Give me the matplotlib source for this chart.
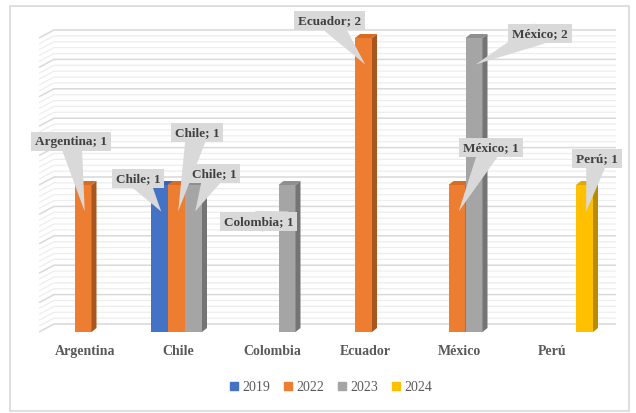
import matplotlib.pyplot as plt
import numpy as np
from matplotlib.lines import Line2D
from matplotlib.patches import Polygon, Rectangle

plt.rcParams["font.family"] = ["Liberation Serif", "DejaVu Serif"]

categories = ["Argentina", "Chile", "Colombia", "Ecuador", "México", "Perú"]
years = ["2019", "2022", "2023", "2024"]
values_2019 = [0, 1, 0, 0, 0, 0]
values_2022 = [1, 1, 0, 2, 1, 0]
values_2023 = [0, 1, 1, 0, 2, 0]
values_2024 = [0, 0, 0, 0, 0, 1]
series = [values_2019, values_2022, values_2023, values_2024]

front_colors = ["#4472C4", "#ED7D31", "#A5A5A5", "#FFC000"]
side_colors = ["#2F5597", "#A9561E", "#747474", "#B98C00"]
top_colors = ["#3A64B0", "#D86C25", "#8F8F8F", "#E0A800"]

# callout text offsets in pixels from the pointer tip (series, category) -> (dx, dy)
callout_offsets = {
    (1, 0): (-14, 70),
    (0, 1): (-23, 33),
    (1, 1): (19, 79),
    (2, 1): (19, 38),
    (2, 2): (-30, -10),
    (1, 3): (-36, 44),
    (2, 4): (64, 31),
    (1, 4): (32, 64),
    (3, 5): (11, 53),
}

W, H = 636, 414
fig = plt.figure(figsize=(W / 100, H / 100), dpi=100)
ax = fig.add_axes([0, 0, 1, 1])

# pixel layout -> data limits (category spacing 93.5 px, 147 px per unit)
px_cat, x0_px = 93.5, 91.5
px_val, y0_px = 147.0, 333.0
ax.set_xlim((0 - x0_px) / px_cat, (W - x0_px) / px_cat)
ax.set_ylim((y0_px - H) / px_val, y0_px / px_val)
ax.axis("off")

# back wall and side wall gridlines
wall_dx, wall_dy = 15 / px_cat, 8 / px_val
x_front_left = (39 - x0_px) / px_cat
x_back_left = x_front_left + wall_dx
x_back_right = (616 - x0_px) / px_cat
for k, v in enumerate(np.arange(0, 2.0001, 0.04)):
    major = k % 5 == 0
    col = "#D9D9D9" if major else "#EDEDED"
    lw = 1.1 if major else 0.9
    ax.plot([x_front_left, x_back_left, x_back_right],
            [v, v + wall_dy, v + wall_dy], color=col, lw=lw, zorder=1,
            solid_capstyle="butt")

# 3D-ish bars
width = 17 / px_cat
depth_dx, depth_dy = 5 / px_cat, 4 / px_val
x = np.arange(len(categories))
for s, vals in enumerate(series):
    offs = (s - 1.5) * width
    for i, v in enumerate(vals):
        if v == 0:
            continue
        xl = x[i] + offs - width / 2
        xr = xl + width
        ax.bar(xl, v, width=width, align="edge", color=front_colors[s], zorder=3 + i)
        ax.add_patch(Polygon([(xr, 0), (xr + depth_dx, depth_dy), (xr + depth_dx, v + depth_dy), (xr, v)],
                             closed=True, facecolor=side_colors[s], edgecolor="none", zorder=3 + i))
        ax.add_patch(Polygon([(xl, v), (xr, v), (xr + depth_dx, v + depth_dy), (xl + depth_dx, v + depth_dy)],
                             closed=True, facecolor=top_colors[s], edgecolor="none", zorder=3 + i))

# data callouts
for (s, i), (dx, dy) in callout_offsets.items():
    v = series[s][i]
    tip = (x[i] + (s - 1.5) * width + 0.1 * width, v - 0.18)
    ax.annotate(f"{categories[i]}; {v}", xy=tip, xytext=(dx, dy), textcoords="offset pixels",
                ha="center", va="center", fontsize=9.5, fontweight="bold", color="#404040",
                bbox=dict(boxstyle="square,pad=0.3", facecolor="#D9D9D9", edgecolor="none"),
                arrowprops=dict(arrowstyle="wedge,tail_width=1.7,shrink_factor=0.5",
                                facecolor="#D9D9D9", edgecolor="none", shrinkA=0, shrinkB=0,
                                patchA=None),
                zorder=20)

# category labels
for i, name in enumerate(categories):
    ax.text(x[i] - 0.07, (y0_px - 352) / px_val, name, ha="center", va="center",
            fontsize=10, fontweight="bold", color="#595959")

# legend
handles = [Line2D([], [], linestyle="none", marker="s", markersize=6,
                  markerfacecolor=c, markeredgecolor=c) for c in front_colors]
fig.legend(handles, years, loc="center", bbox_to_anchor=(331 / W, 1 - 388 / H), ncol=4,
           frameon=False, fontsize=10, handlelength=0.6, handletextpad=0.3,
           columnspacing=1.0, labelcolor="#595959")

# outer chart border
fig.patches.append(Rectangle((10 / W, 2 / H), 619 / W, 405 / H, transform=fig.transFigure,
                             fill=False, edgecolor="#D9D9D9", lw=1.2))

fig.savefig("out.png", dpi=100, facecolor="white")
